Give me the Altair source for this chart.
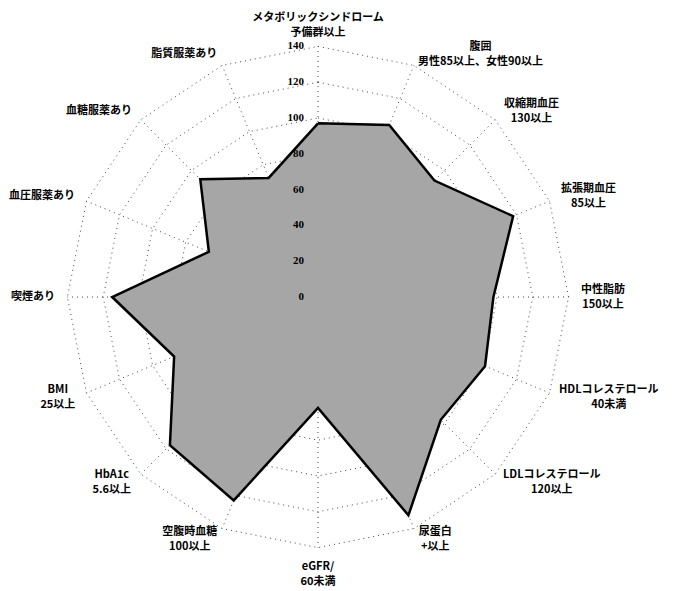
import math
import altair as alt
import pandas as pd

# ---- data ----
labels = [
    "メタボリックシンドローム\n予備群以上",
    "腹囲\n男性85以上、女性90以上",
    "収縮期血圧\n130以上",
    "拡張期血圧\n85以上",
    "中性脂肪\n150以上",
    "HDLコレステロール\n40未満",
    "LDLコレステロール\n120以上",
    "尿蛋白\n+以上",
    "eGFR/\n60未満",
    "空腹時血糖\n100以上",
    "HbA1c\n5.6以上",
    "BMI\n25以上",
    "喫煙あり",
    "血圧服薬あり",
    "血糖服薬あり",
    "脂質服薬あり",
]
values = [97, 104, 92, 118, 98, 101, 97, 132, 62, 123, 117, 87, 115, 66, 93, 72]
ticks = [0, 20, 40, 60, 80, 100, 120, 140]

N = len(labels)
RMAX = ticks[-1]
PX = 1.79  # pixels per unit (layout)
FONT = "Noto Sans CJK JP"
LH = 15
HH_TOP = 9 / PX
HH_BOT = 14 / PX


def est_width(line, fs=11):
    return sum(fs * 0.56 if ord(ch) < 128 else fs for ch in line)


# ---- tables ----
poly_df = pd.DataFrame({
    "idx": list(range(N)) + [N],
    "value": values + [values[0]],
})

ring_rows = []
for r in ticks[1:]:
    for k in range(N + 1):
        ring_rows.append({"ring": r, "k": k})
ring_df = pd.DataFrame(ring_rows)

spoke_df = pd.DataFrame({"idx": list(range(N))})

lab_rows = []
for i, lab in enumerate(labels):
    lines = lab.split("\n")
    hw = max(est_width(l) for l in lines) / 2 / PX
    up = (len(lines) - 1) * LH / 2 / PX  # Vega puts first line at the anchor
    lab_rows.append({"idx": i, "label": lab, "hw": hw, "up": up})
lab_df = pd.DataFrame(lab_rows)

tick_df = pd.DataFrame({"t": ticks})

# ---- scales: center of the web ----
W, H = 661, 583
CX, CY = 310, 289
xs = alt.Scale(domain=[-CX / PX, (W - CX) / PX], nice=False, zero=False)
ys = alt.Scale(domain=[-(H - CY) / PX, CY / PX], nice=False, zero=False)
ANG = f"datum.idx*2*PI/{N}"

rings = alt.Chart(ring_df).transform_calculate(
    a=f"datum.k*2*PI/{N}",
    x="datum.ring*sin(datum.a)",
    y="datum.ring*cos(datum.a)",
).mark_line(color="#444444", strokeWidth=1, strokeDash=[1, 4]).encode(
    x=alt.X("x:Q", scale=xs, axis=None),
    y=alt.Y("y:Q", scale=ys, axis=None),
    detail="ring:N",
    order="k:Q",
)

spokes = alt.Chart(spoke_df).transform_calculate(
    a=ANG,
    x0="0",
    y0="0",
    x=f"{RMAX}*sin(datum.a)",
    y=f"{RMAX}*cos(datum.a)",
).mark_rule(color="#444444", strokeWidth=1, strokeDash=[1, 4]).encode(
    x=alt.X("x0:Q", scale=xs, axis=None),
    y=alt.Y("y0:Q", scale=ys, axis=None),
    x2="x:Q",
    y2="y:Q",
)

poly = alt.Chart(poly_df).transform_calculate(
    a=ANG,
    x="datum.value*sin(datum.a)",
    y="datum.value*cos(datum.a)",
).mark_line(fill="#a6a6a6", stroke="#000000", strokeWidth=2.5, strokeJoin="miter").encode(
    x=alt.X("x:Q", scale=xs, axis=None),
    y=alt.Y("y:Q", scale=ys, axis=None),
    order="idx:Q",
)

tick_text = alt.Chart(tick_df).transform_calculate(
    x0="0",
).mark_text(
    align="right", baseline="middle", dx=-14, fontSize=11,
    font="Liberation Serif", fontWeight="bold", color="#000000",
).encode(
    x=alt.X("x0:Q", scale=xs, axis=None),
    y=alt.Y("t:Q", scale=ys, axis=None),
    text="t:Q",
)

LR = 263 / PX
axis_text = alt.Chart(lab_df).transform_calculate(
    a=ANG,
    s="sin(datum.a)",
    c="cos(datum.a)",
    lx=f"{LR}*datum.s + (abs(datum.s) > 0.2 ? (datum.s > 0 ? 1 : -1) * datum.hw : 0)",
    ly=(f"{LR}*datum.c + (abs(datum.s) <= 0.2 ? (datum.c > 0 ? {HH_TOP} : -{HH_BOT}) : 0)"
        " + datum.up"),
).mark_text(
    align="center", baseline="middle", fontSize=11, lineHeight=LH,
    font=FONT, fontWeight="bold", color="#000000", lineBreak="\n",
).encode(
    x=alt.X("lx:Q", scale=xs, axis=None),
    y=alt.Y("ly:Q", scale=ys, axis=None),
    text="label:N",
)

chart = alt.layer(rings, spokes, poly, tick_text, axis_text).properties(
    width=W, height=H,
    autosize=alt.AutoSizeParams(type="none"),
    padding=0,
).configure_view(stroke=None)

chart.save("out.html", embed_options={"renderer": "svg", "actions": False})
